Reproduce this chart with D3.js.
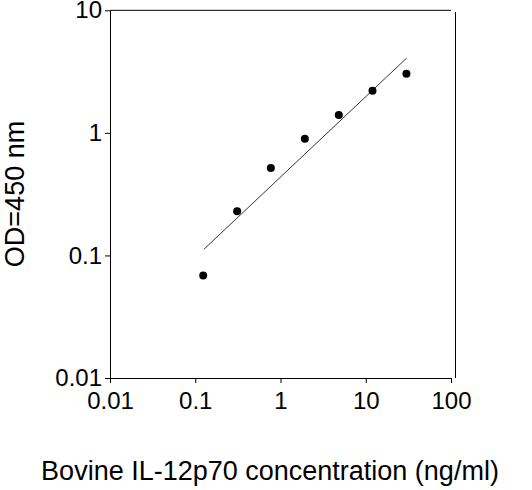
<!DOCTYPE html>
<html>
<head>
<script src="https://cdn.jsdelivr.net/npm/d3@7"></script>
<style>body{margin:0;background:#fff;}</style>
</head>
<body>
<script>
// standard curve values
const conc = [0.124, 0.31, 0.77, 1.93, 4.83, 12.0, 30];
const od = [0.0687, 0.229, 0.516, 0.895, 1.40, 2.21, 3.03];
const fitX = [0.126, 30];
const fitY = [0.112, 4.06];
const xTicks = [0.01, 0.1, 1, 10, 100];
const yTicks = [0.01, 0.1, 1, 10];

const width = 532, height = 490;
const svg = d3.select('body').append('svg')
  .attr('width', width).attr('height', height)
  .style('font-family', '"Liberation Sans", Arial, sans-serif');

const x = d3.scaleLog().domain([0.01, 100]).range([110, 451]);
const y = d3.scaleLog().domain([0.01, 10]).range([378, 10.3]);

// frame
svg.append('path')
  .attr('d', `M110,10.3H451 M455.5,12V378`)
  .attr('stroke', 'black').attr('fill', 'none');

const xAxis = svg.append('g')
  .attr('transform', 'translate(0,378)')
  .call(d3.axisBottom(x).tickValues(xTicks).tickSize(5).tickSizeOuter(0).tickFormat(d3.format('~g')));
const yAxis = svg.append('g')
  .attr('transform', 'translate(110,0)')
  .call(d3.axisLeft(y).tickValues(yTicks).tickSize(5).tickSizeOuter(0).tickFormat(d3.format('~g')));
[xAxis, yAxis].forEach(a => {
  a.selectAll('path,line').attr('stroke', 'black');
  a.selectAll('text').style('font-size', '24px').attr('fill', 'black')
    .style('font-family', '"Liberation Sans", Arial, sans-serif');
});
xAxis.selectAll('text').attr('dy', '0.95em');
yAxis.selectAll('text').attr('x', -8);

// fit line
svg.append('line')
  .attr('x1', x(fitX[0])).attr('y1', y(fitY[0]))
  .attr('x2', x(fitX[1])).attr('y2', y(fitY[1]))
  .attr('stroke', 'black').attr('stroke-width', 0.8);

// points
svg.selectAll('.pt')
  .data(conc.map((c, i) => [c, od[i]]))
  .join('circle')
  .attr('cx', d => x(d[0])).attr('cy', d => y(d[1]))
  .attr('r', 4).attr('fill', 'black');

svg.append('text')
  .attr('x', 270).attr('y', 480)
  .attr('text-anchor', 'middle').style('font-size', '27px')
  .text('Bovine IL-12p70 concentration (ng/ml)');

svg.append('text')
  .attr('transform', 'translate(15,194) rotate(-90)')
  .attr('text-anchor', 'middle').attr('dy', '0.35em').style('font-size', '27px')
  .text('OD=450 nm');
</script>
</body>
</html>
